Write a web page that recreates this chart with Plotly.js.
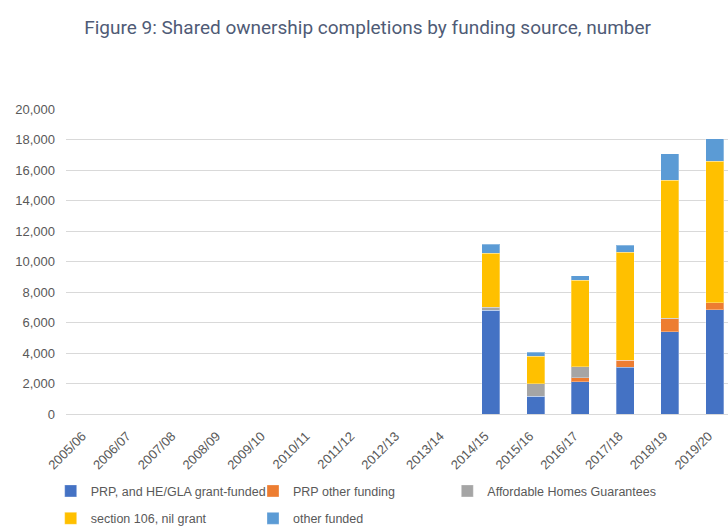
<!DOCTYPE html>
<html>
<head>
<meta charset="utf-8">
<script src="https://cdn.plot.ly/plotly-3.0.1.min.js"></script>
<style>html,body{margin:0;padding:0;background:#fff;}#chart{width:728px;height:528px;}</style>
</head>
<body>
<div id="chart"></div>
<script>
var categories = ["2005/06","2006/07","2007/08","2008/09","2009/10","2010/11","2011/12","2012/13","2013/14","2014/15","2015/16","2016/17","2017/18","2018/19","2019/20"];
var prpGrant   = [null,null,null,null,null,null,null,null,null, 6800, 1150, 2110, 3070, 5390, 6850];
var prpOther   = [null,null,null,null,null,null,null,null,null,    0,    0,  260,  470,  840,  450];
var ahg        = [null,null,null,null,null,null,null,null,null,  210,  820,  740,    0,   50,    0];
var s106       = [null,null,null,null,null,null,null,null,null, 3520, 1830, 5660, 7070, 9050, 9260];
var otherFund  = [null,null,null,null,null,null,null,null,null,  610,  240,  290,  460, 1730, 1490];
var seriesNames = ["PRP, and HE/GLA grant-funded","PRP other funding","Affordable Homes Guarantees","section 106, nil grant","other funded"];
var yTicks = [0,2000,4000,6000,8000,10000,12000,14000,16000,18000,20000];

var colors = ["#4472C4","#ED7D31","#A5A5A5","#FFC000","#5B9BD5"];
var series = [prpGrant, prpOther, ahg, s106, otherFund];
var legendIds = ["legend","legend2","legend3","legend4","legend5"];

var traces = series.map(function(vals, i){
  return {
    type: "bar",
    x: categories,
    y: vals,
    name: seriesNames[i],
    legend: legendIds[i],
    marker: {color: colors[i], line: {color: "rgba(255,255,255,0.3)", width: 1}},
    hoverinfo: "x+y+name"
  };
});

var legFont = {family: "Liberation Sans, Arial, sans-serif", size: 12.5, color: "#595959"};
function leg(xText, yPx){
  return {
    xref: "container", yref: "container",
    x: (xText - 40) / 728, y: 1 - yPx / 528,
    xanchor: "left", yanchor: "middle",
    bgcolor: "rgba(0,0,0,0)", borderwidth: 0,
    font: legFont
  };
}

var layout = {
  width: 728, height: 528,
  margin: {l: 66, r: 0, t: 109, b: 114, autoexpand: false},
  paper_bgcolor: "#fff", plot_bgcolor: "#fff",
  barmode: "stack",
  bargap: 0.6,
  title: {
    text: "Figure 9: Shared ownership completions by funding source, number",
    font: {family: "Roboto, sans-serif", size: 19, color: "#4F5B76"},
    xref: "container", yref: "container",
    x: 0.505, xanchor: "center", y: 1 - 27/528, yanchor: "middle"
  },
  xaxis: {
    type: "category",
    categoryorder: "array", categoryarray: categories,
    range: [-0.5, 14.3],
    tickangle: -45,
    tickfont: {family: "Liberation Sans, Arial, sans-serif", size: 13, color: "#595959"},
    showgrid: false, zeroline: false, showline: false, ticks: "",
    ticklabelshift: -6,
    ticklabelstandoff: 11
  },
  yaxis: {
    range: [0, 20000],
    tickvals: yTicks,
    tickformat: ",d",
    tickfont: {family: "Liberation Sans, Arial, sans-serif", size: 13, color: "#595959"},
    gridcolor: "#D9D9D9", gridwidth: 1,
    zeroline: true, zerolinecolor: "#D9D9D9", zerolinewidth: 1,
    showline: false, ticks: "",
    ticklabelstandoff: 10
  },
  legend: leg(90.7, 491.3),
  legend2: leg(293, 491.3),
  legend3: leg(487.3, 491.3),
  legend4: leg(90.7, 518.7),
  legend5: leg(293, 518.7),
  showlegend: true
};

Plotly.newPlot("chart", traces, layout, {displayModeBar: false, staticPlot: true});
</script>
</body>
</html>
